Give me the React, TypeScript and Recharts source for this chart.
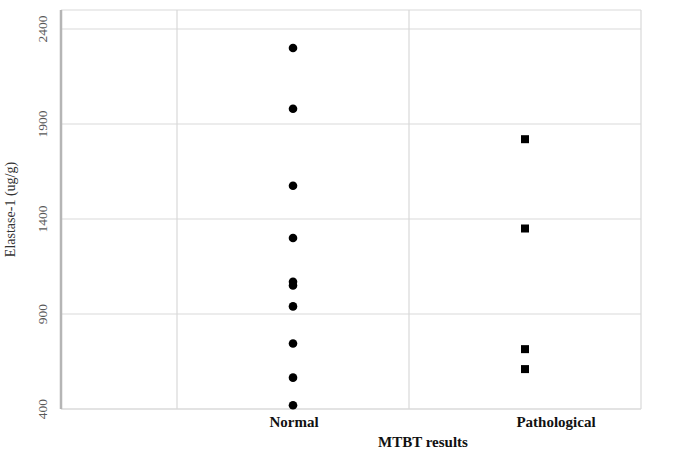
import { ScatterChart, Scatter, XAxis, YAxis, CartesianGrid, ReferenceLine } from 'recharts';

const categories = ['Normal', 'Pathological'];
const normalValues = [2300, 1980, 1575, 1300, 1070, 1050, 940, 745, 565, 420];
const pathologicalValues = [1820, 1350, 715, 610];
const yTicks = [400, 900, 1400, 1900, 2400];
const categoryBounds = [0.5, 1.5, 2.5];

const normalData = normalValues.map((v) => ({ x: 1, y: v }));
const pathologicalData = pathologicalValues.map((v) => ({ x: 2, y: v }));

const SERIF = '"Liberation Serif", "DejaVu Serif", serif';
const GRID = '#d9d9d9';

// the x labels in the source are not quite centered on their columns
const labelShift: Record<string, number> = { Normal: 1, Pathological: 31 };

function YTick({ x, y, payload }: any) {
  return (
    <text
      transform={`translate(${x - 11},${y}) rotate(-90)`}
      textAnchor="middle"
      dy="0.35em"
      fontFamily={SERIF}
      fontSize={13.5}
      fill="#595959"
    >
      {payload.value}
    </text>
  );
}

function XTick({ x, y, payload }: any) {
  const name = categories[payload.value - 1] ?? '';
  return (
    <text
      x={x + (labelShift[name] ?? 0)}
      y={y + 10}
      textAnchor="middle"
      fontFamily={SERIF}
      fontSize={15}
      fontWeight="bold"
      fill="#111"
    >
      {name}
    </text>
  );
}

function YTitle({ viewBox }: any) {
  const cy = viewBox.y + viewBox.height / 2;
  return (
    <text
      transform={`translate(10,${cy}) rotate(-90)`}
      textAnchor="middle"
      dy="0.35em"
      fontFamily={SERIF}
      fontSize={14}
      fill="#333"
    >
      Elastase-1 (ug/g)
    </text>
  );
}

function Dot({ cx, cy }: any) {
  return <circle cx={cx} cy={cy} r={4.3} fill="#000" />;
}

function Square({ cx, cy }: any) {
  return <rect x={cx - 4} y={cy - 4} width={8} height={8} fill="#000" />;
}

export default function App() {
  return (
    <div style={{ position: 'absolute', left: 0, top: 0, background: '#fff' }}>
      <ScatterChart width={675} height={450} margin={{ top: 10, right: 34, left: 0, bottom: 0 }}>
        <CartesianGrid vertical={false} stroke={GRID} strokeWidth={1.2} />
        {categoryBounds.map((b) => (
          <ReferenceLine key={b} x={b} stroke={GRID} strokeWidth={1.2} />
        ))}
        <XAxis
          type="number"
          dataKey="x"
          domain={[0, 2.5]}
          ticks={[1, 2]}
          tick={<XTick />}
          tickLine={false}
          axisLine={{ stroke: GRID, strokeWidth: 1.2 }}
          height={41}
          label={{
            value: 'MTBT results',
            position: 'insideBottom',
            dx: 72,
            offset: 3,
            style: { fontFamily: SERIF, fontSize: 15, fontWeight: 'bold', fill: '#111' },
          }}
        />
        <YAxis
          type="number"
          dataKey="y"
          domain={[400, 2500]}
          ticks={yTicks}
          tick={<YTick />}
          tickLine={false}
          axisLine={{ stroke: '#b5b5b5', strokeWidth: 2.5 }}
          width={61}
          label={<YTitle />}
        />
        <Scatter data={normalData} shape={<Dot />} isAnimationActive={false} />
        <Scatter data={pathologicalData} shape={<Square />} isAnimationActive={false} />
      </ScatterChart>
    </div>
  );
}
